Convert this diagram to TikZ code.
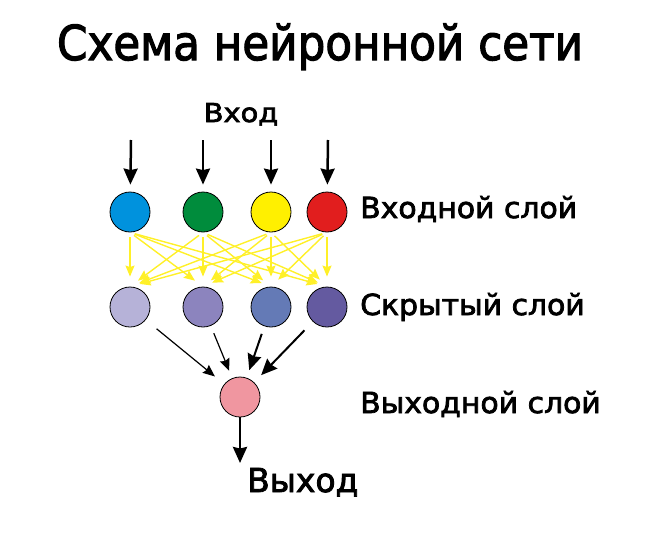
\documentclass[tikz,border=0pt]{standalone}
\usepackage{fontspec}
\setmainfont[FakeBold=2.5]{DejaVu Sans}
\usetikzlibrary{arrows.meta}
\definecolor{inA}{RGB}{0,146,221}
\definecolor{inB}{RGB}{0,140,60}
\definecolor{inC}{RGB}{255,240,0}
\definecolor{inD}{RGB}{225,30,30}
\definecolor{hidA}{RGB}{182,178,216}
\definecolor{hidB}{RGB}{140,132,190}
\definecolor{hidC}{RGB}{100,122,182}
\definecolor{hidD}{RGB}{100,90,160}
\definecolor{outA}{RGB}{240,150,160}
\definecolor{wire}{RGB}{255,240,40}
\begin{document}
\begin{tikzpicture}[x=1pt, y=-1pt,
  big arrow/.style={-{Stealth[length=16pt, width=14pt, inset=1.5pt]}},
  thin arrow/.style={-{Stealth[length=12pt, width=10pt, inset=1.5pt]}},
  wire arrow/.style={-{Stealth[length=11pt, width=9pt, inset=1.5pt]}},
  main node/.style={circle, draw, thick, minimum size=40pt, inner sep=0pt},
  label node/.style={font=\fontsize{29}{34}\selectfont, anchor=base west, inner sep=0pt, xscale=1.03}]
  \useasboundingbox (0,0) rectangle (668,535);

  \node[font=\fontsize{48}{56}\selectfont, anchor=base, inner sep=0pt, xscale=0.91] (title) at (320,60) {Схема нейронной сети};
  \node[font=\fontsize{26}{30}\selectfont, anchor=base, inner sep=0pt, xscale=1.11] (in) at (241,122) {Вход};

  % input layer
  \node[main node, fill=inA] (1) at (130,212) {};
  \node[main node, fill=inB] (2) at (203,212) {};
  \node[main node, fill=inC] (3) at (271,212) {};
  \node[main node, fill=inD] (4) at (327,212) {};

  % hidden layer
  \node[main node, fill=hidA] (5) at (130,307) {};
  \node[main node, fill=hidB] (6) at (203,307) {};
  \node[main node, fill=hidC] (7) at (271,307) {};
  \node[main node, fill=hidD] (8) at (327,307) {};

  % output layer
  \node[main node, fill=outA] (9) at (240,397) {};

  \node[label node] (l1) at (360,218) {Входной слой};
  \node[label node] (l2) at (360,315) {Скрытый слой};
  \node[label node] (l3) at (360,413) {Выходной слой};
  \node[font=\fontsize{33}{38}\selectfont, anchor=base west, inner sep=0pt] (out) at (247,492) {Выход};

  \coordinate (t1) at (131,140);
  \coordinate (t2) at (203,140);
  \coordinate (t3) at (271,140);
  \coordinate (t4) at (328,140);
  \coordinate (b9) at (240,463);

  \foreach \i in {1,...,4}
    \draw[big arrow, line width=2.5pt, shorten >=7pt] (t\i) -- (\i);

  \foreach \i in {1,...,4}
    \foreach \j in {5,...,8}
      \draw[wire arrow, wire, line width=1.4pt, shorten <=5pt, shorten >=10pt] (\i.south) -- (\j.north);

  \draw[thin arrow, line width=1.2pt, shorten <=14pt, shorten >=12pt] (5) -- (9);
  \draw[thin arrow, line width=1.2pt, shorten <=8pt, shorten >=8pt] (6) -- (9);
  \draw[big arrow, line width=2pt, shorten <=8pt, shorten >=8pt] (7) -- (9);
  \draw[big arrow, line width=2pt, shorten <=12pt, shorten >=10pt] (8) -- (9);

  \draw[big arrow, line width=2.8pt] (9) -- (b9);
\end{tikzpicture}
\end{document}
